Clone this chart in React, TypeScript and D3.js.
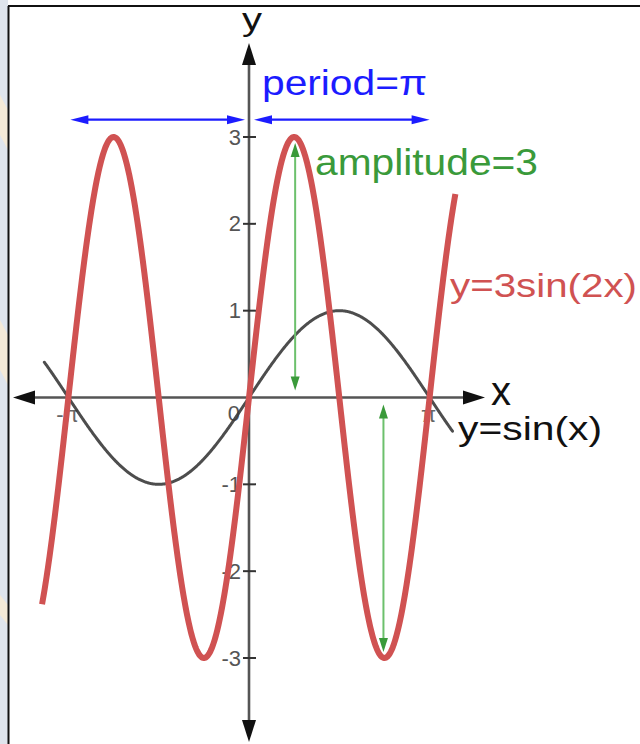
import React from "react";
import * as d3 from "d3";

// Curves: y = A·sin(k·x), as stated by their labels
const CURVE_LABELS = ["y=3sin(2x)", "y=sin(x)"];
const AMPLITUDES = [3, 1];
const FREQUENCIES = [2, 1];
const CURVE_DOMAINS: [number, number][] = [
  [-3.6, 3.59],
  [-3.56, 3.54],
];

// Axis ticks
const Y_TICKS = [-3, -2, -1, 1, 2, 3];
const X_TICKS = [-Math.PI, 0, Math.PI];
const X_TICK_LABELS = ["-π", "0", "π"];

// Annotations
const PERIOD_SPANS: [number, number][] = [
  [-Math.PI, 0],
  [0, Math.PI],
];
const PERIOD_LEVEL = 3.2;
const AMPLITUDE_MARKERS = [
  { x: Math.PI / 4, from: 0, to: 3 },
  { x: (3 * Math.PI) / 4, from: 0, to: -3 },
];

const W = 640;
const H = 744;
const FONT = "Arial, 'Liberation Sans', Helvetica, sans-serif";

const RED = "#d05252";
const BLUE = "#1c1cff";
const GREEN_LINE = "#6cc06c";
const GREEN = "#3a9a3a";
const AXIS = "#555";

function arrowHead(tx: number, ty: number, dx: number, dy: number, len: number, half: number) {
  // tip at (tx,ty), pointing along (dx,dy)
  const n = Math.hypot(dx, dy);
  const ux = dx / n;
  const uy = dy / n;
  const bx = tx - ux * len;
  const by = ty - uy * len;
  const px = -uy;
  const py = ux;
  return `${tx},${ty} ${bx + px * half},${by + py * half} ${bx - px * half},${by - py * half}`;
}

export default function App() {
  const x = d3.scaleLinear().domain([-Math.PI, Math.PI]).range([68.4, 429.6]);
  const y = d3.scaleLinear().domain([-3, 3]).range([658, 137]);
  const x0 = x(0);
  const y0 = y(0);

  const curves = CURVE_LABELS.map((label, i) => {
    const [a, b] = CURVE_DOMAINS[i];
    const xs = d3.range(a, b, 0.01).concat([b]);
    const line = d3
      .line<number>()
      .x((v) => x(v))
      .y((v) => y(AMPLITUDES[i] * Math.sin(FREQUENCIES[i] * v)));
    return { label, d: line(xs) as string };
  });

  const yAxisTop = 43;
  const yAxisBottom = 742;
  const xAxisLeft = 13;
  const xAxisRight = 485;

  return (
    <svg
      width={W}
      height={H}
      viewBox={`0 0 ${W} ${H}`}
      style={{ position: "absolute", left: 0, top: 0, background: "#fff" }}
    >
      {/* left margin strip */}
      <rect x={0} y={0} width={8} height={H} fill="#dfe5ed" />
      <g fill="#f6ead5" opacity={0.9}>
        <polygon points="0,95 8,110 8,150 0,135" />
        <polygon points="0,320 8,335 8,385 0,370" />
        <polygon points="0,595 8,605 8,625 0,615" />
      </g>
      {/* frame */}
      <line x1={8.5} y1={6} x2={8.5} y2={H} stroke="#111" strokeWidth={2} />
      <line x1={8} y1={6} x2={W} y2={6} stroke="#111" strokeWidth={2} />

      {/* axes */}
      <line x1={xAxisLeft + 10} y1={y0} x2={xAxisRight - 10} y2={y0} stroke={AXIS} strokeWidth={2.6} />
      <line x1={x0} y1={yAxisTop + 10} x2={x0} y2={yAxisBottom - 10} stroke={AXIS} strokeWidth={2.6} />
      <polygon points={arrowHead(xAxisLeft, y0, -1, 0, 22, 7)} fill="#111" />
      <polygon points={arrowHead(xAxisRight, y0, 1, 0, 22, 7)} fill="#111" />
      <polygon points={arrowHead(x0, yAxisTop, 0, -1, 22, 7)} fill="#111" />
      <polygon points={arrowHead(x0, yAxisBottom, 0, 1, 22, 7)} fill="#111" />

      {/* y ticks */}
      {Y_TICKS.map((t) => (
        <g key={t}>
          <line x1={x0 - 6} x2={x0 + 7} y1={y(t)} y2={y(t)} stroke="#333" strokeWidth={2} />
          <text
            x={241}
            y={y(t) + 7.5}
            textAnchor="end"
            fontFamily={FONT}
            fontSize={22}
            fill="#555"
          >
            {t}
          </text>
        </g>
      ))}

      {/* x tick labels */}
      {X_TICKS.map((t, i) =>
        t === 0 ? (
          <text key={i} x={240} y={421} textAnchor="end" fontFamily={FONT} fontSize={22} fill="#555">
            {X_TICK_LABELS[i]}
          </text>
        ) : (
          <text key={i} x={x(t) - 1} y={422} textAnchor="middle" fontFamily={FONT} fontSize={22} fill="#666">
            {X_TICK_LABELS[i]}
          </text>
        )
      )}

      {/* axis names */}
      <text x={242} y={30} fontFamily={FONT} fontSize={31} fill="#111" textLength={20} lengthAdjust="spacingAndGlyphs">
        y
      </text>
      <text x={491} y={405} fontFamily={FONT} fontSize={40} fill="#111">
        x
      </text>

      {/* curves */}
      <path d={curves[1].d} fill="none" stroke="#3a3a3a" strokeWidth={3} strokeOpacity={0.9} strokeLinecap="round" />
      <path d={curves[0].d} fill="none" stroke={RED} strokeWidth={6} strokeLinecap="butt" />

      {/* period arrows */}
      {PERIOD_SPANS.map(([a, b], i) => {
        const x1 = x(a) + 2;
        const x2 = x(b) - (i === 0 ? 4 : 0);
        const x1b = i === 0 ? x1 : x(a) + 5;
        const yy = y(PERIOD_LEVEL);
        return (
          <g key={i}>
            <line x1={x1b + 10} x2={x2 - 10} y1={yy} y2={yy} stroke={BLUE} strokeWidth={2.2} />
            <polygon points={arrowHead(x1b, yy, -1, 0, 18, 4.5)} fill={BLUE} />
            <polygon points={arrowHead(x2, yy, 1, 0, 18, 4.5)} fill={BLUE} />
          </g>
        );
      })}
      <text x={262} y={95} fontFamily={FONT} fontSize={35} fill={BLUE} textLength={165} lengthAdjust="spacingAndGlyphs">
        period=π
      </text>

      {/* amplitude arrows */}
      {AMPLITUDE_MARKERS.map((m, i) => {
        const xx = x(m.x) + (i === 0 ? 1 : -1);
        const dir = m.to > m.from ? -1 : 1;
        const yFrom = y(m.from) + dir * 7;
        const yTo = y(m.to) - dir * 6;
        return (
          <g key={i}>
            <line x1={xx} x2={xx} y1={yFrom + dir * 10} y2={yTo - dir * 10} stroke={GREEN_LINE} strokeWidth={2} />
            <polygon points={arrowHead(xx, yFrom, 0, -dir, 14, 4.5)} fill={GREEN} />
            <polygon points={arrowHead(xx, yTo, 0, dir, 14, 4.5)} fill={GREEN} />
          </g>
        );
      })}
      <text x={315} y={175} fontFamily={FONT} fontSize={37} fill={GREEN} textLength={223} lengthAdjust="spacingAndGlyphs">
        amplitude=3
      </text>

      {/* curve labels */}
      <text x={450} y={297} fontFamily={FONT} fontSize={33} fill={RED} textLength={187} lengthAdjust="spacingAndGlyphs">
        {curves[0].label}
      </text>
      <text x={458} y={440} fontFamily={FONT} fontSize={34} fill="#111" textLength={144} lengthAdjust="spacingAndGlyphs">
        {curves[1].label}
      </text>
    </svg>
  );
}
